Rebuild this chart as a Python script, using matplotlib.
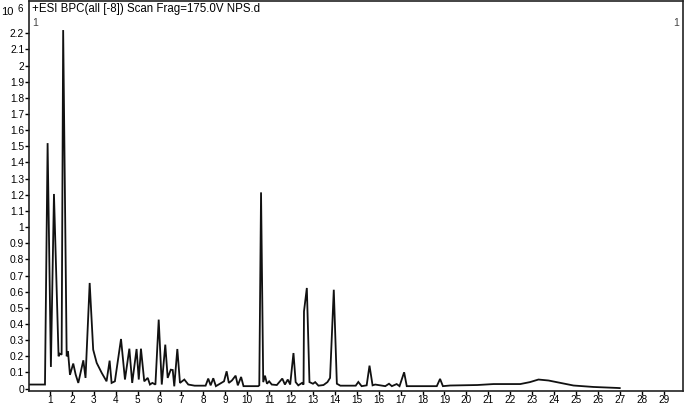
import matplotlib
matplotlib.use("Agg")
import matplotlib.pyplot as plt
from matplotlib.ticker import FixedLocator, FuncFormatter

plt.rcParams['font.family'] = ['Liberation Sans', 'DejaVu Sans']

# Retention time (min) and intensity (x10^6 counts)
rt = [0.05, 0.77, 0.89, 1.04, 1.18, 1.39, 1.45, 1.53, 1.60, 1.76, 1.82, 1.91,
      2.06, 2.17, 2.29, 2.52, 2.62, 2.81, 2.97, 3.13, 3.36, 3.58, 3.72, 3.81,
      3.96, 4.24, 4.42, 4.62, 4.75, 4.95, 5.05, 5.15, 5.30, 5.46, 5.56, 5.67,
      5.81, 5.96, 6.10, 6.26, 6.37, 6.51, 6.60, 6.67, 6.81, 6.93, 7.13, 7.31,
      7.60, 8.10, 8.22, 8.33, 8.45, 8.57, 8.94, 9.06, 9.16, 9.30, 9.47, 9.57,
      9.72, 9.83, 10.50, 10.55, 10.63, 10.73, 10.81, 10.90, 11.00, 11.12, 11.35,
      11.60, 11.72, 11.85, 11.96, 12.11, 12.21, 12.33, 12.50, 12.57, 12.59, 12.72,
      12.84, 13.00, 13.10, 13.25, 13.48, 13.66, 13.78, 13.95, 14.09, 14.25, 14.95,
      15.07, 15.22, 15.45, 15.58, 15.72, 15.84, 16.30, 16.47, 16.60, 16.82, 16.95,
      17.16, 17.28, 18.65, 18.80, 18.93, 19.26, 20.50, 21.24, 22.46, 22.90, 23.29,
      23.75, 24.30, 24.89, 25.80, 26.87, 27.00]
intensity = [0.025, 0.025, 1.52, 0.134, 1.205, 0.20, 0.216, 0.21, 2.22, 0.20, 0.23, 0.085,
             0.155, 0.087, 0.035, 0.175, 0.066, 0.654, 0.241, 0.159, 0.097, 0.045, 0.173, 0.035,
             0.045, 0.307, 0.056, 0.247, 0.035, 0.245, 0.056, 0.247, 0.045, 0.066, 0.025, 0.035,
             0.025, 0.427, 0.025, 0.272, 0.066, 0.117, 0.115, 0.014, 0.245, 0.035, 0.056, 0.025,
             0.018, 0.018, 0.062, 0.02, 0.064, 0.015, 0.045, 0.107, 0.035, 0.05, 0.08, 0.02,
             0.072, 0.015, 0.015, 0.02, 1.215, 0.04, 0.08, 0.03, 0.045, 0.025, 0.022,
             0.062, 0.025, 0.056, 0.025, 0.22, 0.04, 0.02, 0.035, 0.025, 0.478, 0.623,
             0.04, 0.03, 0.04, 0.018, 0.022, 0.04, 0.066, 0.612, 0.03, 0.018, 0.018,
             0.041, 0.015, 0.02, 0.142, 0.02, 0.025, 0.015, 0.03, 0.015, 0.028, 0.015,
             0.101, 0.015, 0.015, 0.06, 0.015, 0.019, 0.022, 0.028, 0.028, 0.04, 0.056,
             0.05, 0.035, 0.019, 0.01, 0.004, 0.003]

x_ticks = list(range(1, 30))
y_ticks = [round(i * 0.1, 1) for i in range(0, 23)]
title_text = "+ESI BPC(all [-8]) Scan Frag=175.0V NPS.d"

fig = plt.figure(figsize=(6.85, 4.04), dpi=100)
ax = fig.add_axes([29.2 / 685, 1 - 391 / 404, (683.3 - 29.2) / 685, (391 - 1) / 404])

ax.plot(rt, intensity, color='#111111', lw=1.3, solid_joinstyle='miter')

ax.set_xlim(0.05, 29.9)
ax.set_ylim(-0.015, 2.40)

ax.xaxis.set_major_locator(FixedLocator(x_ticks))
ax.yaxis.set_major_locator(FixedLocator(y_ticks))


def yfmt(v, pos):
    s = f"{v:.1f}"
    if s.endswith(".0"):
        s = s[:-2]
    return s


ax.yaxis.set_major_formatter(FuncFormatter(yfmt))
ax.xaxis.set_major_formatter(FuncFormatter(lambda v, p: f"{int(v)}"))
ax.tick_params(axis='both', direction='out', length=2.6, width=1.0, labelsize=7.4,
               colors='black')
ax.tick_params(axis='x', pad=0.2, labelsize=7.2)
ax.tick_params(axis='y', pad=1.0)

for s in ax.spines.values():
    s.set_linewidth(1.2)
    s.set_color('#222222')

ax.text(0.004, 0.994, title_text, transform=ax.transAxes, ha='left', va='top',
        fontsize=8.3, color='black')
ax.text(0.005, 0.956, "1", transform=ax.transAxes, ha='left', va='top',
        fontsize=7.5, color='#444444')
ax.text(0.994, 0.956, "1", transform=ax.transAxes, ha='right', va='top',
        fontsize=7.5, color='#444444')

fig.text(1.5 / 685, 1 - 12 / 404, "10", ha='left', va='center', fontsize=8, color='black')
fig.text(17 / 685, 1 - 9 / 404, "6", ha='left', va='center', fontsize=7, color='black')

fig.savefig("out.png", dpi=100)
